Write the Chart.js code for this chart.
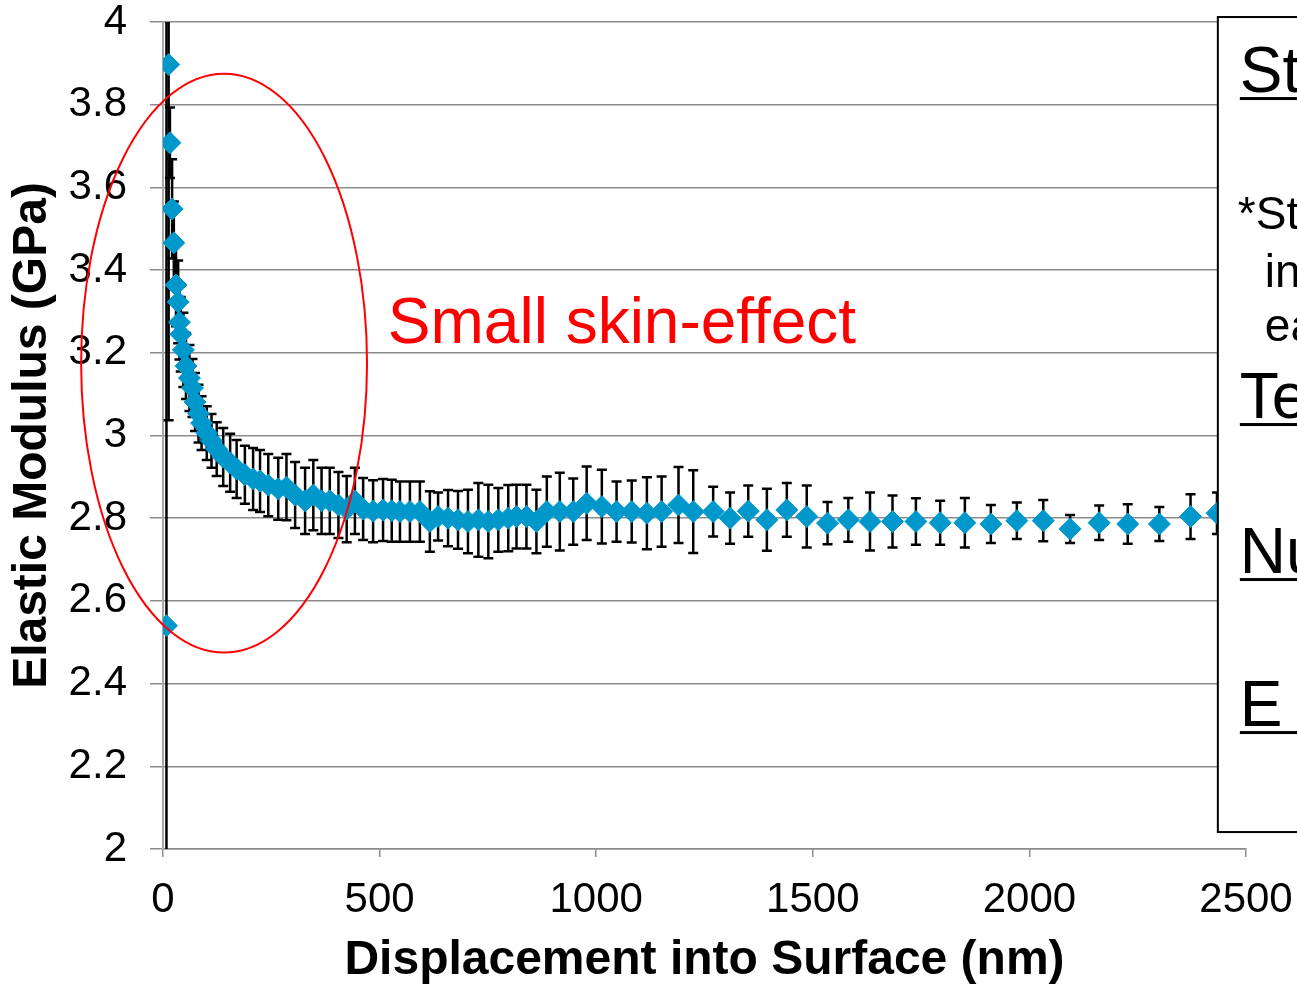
<!DOCTYPE html>
<html>
<head>
<meta charset="utf-8">
<script src="https://cdn.jsdelivr.net/npm/chart.js@4"></script>
<style>
  html, body { margin: 0; padding: 0; background: #fff; }
  #wrap { width: 1297px; height: 987px; position: relative; }
</style>
</head>
<body>
<div id="wrap"><canvas id="chart"></canvas></div>
<script>
// data
const dispNm = [8, 13, 16, 21, 25, 30, 35, 38, 41, 47, 53, 61, 68, 74, 82, 89, 101, 112, 124, 139,
  155, 170, 189, 208, 224, 243, 266, 285, 305, 328, 347, 366, 385, 405, 424, 443, 462, 485, 508, 528,
  547, 570, 593, 616, 635, 658, 681, 704, 728, 751, 774, 797, 816, 839, 862, 886, 916, 947, 978, 1013,
  1047, 1082, 1117, 1151, 1190, 1224, 1270, 1309, 1351, 1394, 1440, 1486, 1534, 1582, 1632, 1684, 1738, 1794,
  1851, 1911, 1971, 2032, 2094, 2161, 2227, 2300, 2372, 2433];
const modulusGPa = [2.54, 3.897, 3.708, 3.548, 3.466, 3.364, 3.323, 3.274, 3.245, 3.207, 3.168, 3.139, 3.115, 3.081, 3.053, 3.030, 3.006, 2.987, 2.967, 2.948,
  2.934, 2.919, 2.905, 2.895, 2.890, 2.880, 2.871, 2.875, 2.856, 2.842, 2.856, 2.842, 2.842, 2.832, 2.822, 2.842, 2.822, 2.817, 2.820, 2.818,
  2.816, 2.816, 2.816, 2.792, 2.804, 2.800, 2.796, 2.792, 2.796, 2.792, 2.796, 2.800, 2.804, 2.804, 2.792, 2.816, 2.816, 2.816, 2.836, 2.828,
  2.816, 2.816, 2.812, 2.816, 2.832, 2.816, 2.816, 2.800, 2.817, 2.796, 2.820, 2.804, 2.788, 2.796, 2.792, 2.792, 2.792, 2.789,
  2.789, 2.786, 2.794, 2.794, 2.774, 2.789, 2.786, 2.786, 2.804, 2.812];
const errGPa = [1.6, 0.86, 0.085, 0.12, 0.1, 0.1, 0.1, 0.09, 0.09, 0.09, 0.08, 0.08, 0.07, 0.07, 0.07, 0.065, 0.065, 0.065, 0.065, 0.07,
  0.07, 0.07, 0.07, 0.075, 0.075, 0.075, 0.075, 0.08, 0.08, 0.08, 0.085, 0.08, 0.08, 0.08, 0.08, 0.08, 0.075, 0.075, 0.075, 0.075,
  0.073, 0.073, 0.073, 0.073, 0.058, 0.068, 0.070, 0.077, 0.089, 0.089, 0.077, 0.080, 0.077, 0.077, 0.077, 0.085, 0.094, 0.080, 0.089, 0.089,
  0.073, 0.075, 0.087, 0.085, 0.092, 0.100, 0.060, 0.062, 0.062, 0.075, 0.065, 0.075, 0.051, 0.053, 0.070, 0.063, 0.056, 0.053,
  0.060, 0.046, 0.044, 0.050, 0.034, 0.042, 0.048, 0.041, 0.054, 0.050];

const xTicks = [0, 500, 1000, 1500, 2000, 2500];
const yTicks = [2, 2.2, 2.4, 2.6, 2.8, 3, 3.2, 3.4, 3.6, 3.8, 4];

const FONT = "'Liberation Sans', Arial, sans-serif";
const gridGray = '#8c8c8c';

// error bars under the markers
const errorBars = {
  id: 'errorBars',
  beforeDatasetsDraw(chart) {
    const {ctx, chartArea, scales: {x, y}} = chart;
    ctx.save();
    ctx.beginPath();
    ctx.rect(chartArea.left, chartArea.top, chartArea.right - chartArea.left, chartArea.bottom - chartArea.top);
    ctx.clip();
    ctx.strokeStyle = '#000';
    ctx.lineWidth = 2.5;
    dispNm.forEach((d, i) => {
      const px = x.getPixelForValue(d);
      const top = y.getPixelForValue(modulusGPa[i] + errGPa[i]);
      const bot = y.getPixelForValue(modulusGPa[i] - errGPa[i]);
      ctx.beginPath();
      ctx.moveTo(px, top); ctx.lineTo(px, bot);
      ctx.moveTo(px - 5, top); ctx.lineTo(px + 5, top);
      ctx.moveTo(px - 5, bot); ctx.lineTo(px + 5, bot);
      ctx.stroke();
    });
    ctx.restore();
  }
};

// red ellipse + note, and the text box cut off on the right
const overlays = {
  id: 'overlays',
  afterDraw(chart) {
    const {ctx, scales: {x, y}} = chart;
    ctx.save();
    // ellipse around the skin region
    const cx = x.getPixelForValue(141), cy = y.getPixelForValue(3.175);
    const rx = x.getPixelForValue(141 + 330) - cx;
    const ry = y.getPixelForValue(3.175 - 0.70) - cy;
    ctx.strokeStyle = '#ff0000';
    ctx.lineWidth = 2;
    ctx.beginPath();
    ctx.ellipse(cx, cy, rx, ry, 0, 0, Math.PI * 2);
    ctx.stroke();

    ctx.fillStyle = '#ff0000';
    ctx.font = '64px ' + FONT;
    ctx.textBaseline = 'alphabetic';
    ctx.fillText('Small skin-effect', x.getPixelForValue(519), y.getPixelForValue(3.224));

    // text box
    const bx = x.getPixelForValue(2435);
    const by = y.getPixelForValue(4.012);
    const bb = y.getPixelForValue(2.041);
    ctx.fillStyle = '#fff';
    ctx.fillRect(bx, by, 200, bb - by);
    ctx.strokeStyle = '#000';
    ctx.lineWidth = 2;
    ctx.strokeRect(bx, by, 200, bb - by);

    ctx.fillStyle = '#000';
    const line = (txt, size, tx, ty, underline) => {
      ctx.font = size + 'px ' + FONT;
      ctx.fillText(txt, tx, ty);
      if (underline) {
        const w = ctx.measureText(txt).width;
        ctx.fillRect(tx, ty + 5, w, 3);
      }
    };
    line('Statistics', 64, bx + 22, by + 75, true);
    line('*Standard deviations', 46, bx + 20, by + 212, false);
    line('in the modulus at', 46, bx + 47, by + 270, false);
    line('each depth', 46, bx + 47, by + 324, false);
    line('Test Method', 64, bx + 22, by + 401, true);
    line('Number of Indents', 64, bx + 22, by + 556, true);
    line('E = 2.8 GPa', 64, bx + 22, by + 709, true);
    ctx.restore();
  }
};

new Chart(document.getElementById('chart'), {
  type: 'scatter',
  data: {
    datasets: [{
      data: dispNm.map((d, i) => ({x: d, y: modulusGPa[i]})),
      pointStyle: 'rectRot',
      pointRadius: 11,
      backgroundColor: '#0098cb',
      borderColor: '#0098cb',
      borderWidth: 1
    }]
  },
  plugins: [errorBars, overlays],
  options: {
    responsive: true,
    maintainAspectRatio: false,
    animation: false,
    layout: {padding: {top: 22, right: 51, left: 0, bottom: 0}},
    plugins: {legend: {display: false}, tooltip: {enabled: false}},
    scales: {
      x: {
        type: 'linear', min: 0, max: 2500,
        afterBuildTicks: s => { s.ticks = xTicks.map(v => ({value: v})); },
        afterFit: s => { s.height = 138; s.paddingLeft = 0; s.paddingRight = 0; },
        ticks: {font: {size: 42, family: FONT, lineHeight: 1}, color: '#000', padding: 22, maxRotation: 0,
          callback: v => String(v)},
        grid: {drawOnChartArea: false, tickLength: 8, color: gridGray, lineWidth: 1.5},
        border: {color: gridGray, width: 1.5},
        title: {display: true, text: 'Displacement into Surface (nm)', color: '#000',
          font: {size: 48, weight: 'bold', family: FONT, lineHeight: 1}, padding: {top: 0, bottom: 2}}
      },
      y: {
        type: 'linear', min: 2, max: 4,
        afterBuildTicks: s => { s.ticks = yTicks.map(v => ({value: v})); },
        afterFit: s => { s.width = 163; s.paddingTop = 0; s.paddingBottom = 0; },
        ticks: {font: {size: 42, family: FONT, lineHeight: 1}, color: '#000', padding: 23,
          callback: v => String(Number(v.toFixed(1)))},
        grid: {tickLength: 13, color: gridGray, lineWidth: 1.5},
        border: {color: '#a8a8a8', width: 2},
        title: {display: true, text: 'Elastic Modulus (GPa)', color: '#000',
          font: {size: 48, weight: 'bold', family: FONT, lineHeight: 1}, padding: {top: 9, bottom: 0}}
      }
    }
  }
});
</script>
</body>
</html>
